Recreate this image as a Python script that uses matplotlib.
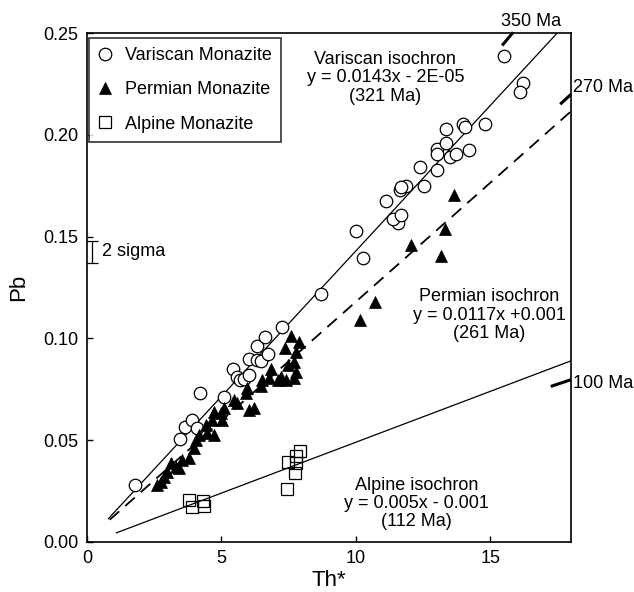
import matplotlib
matplotlib.use("Agg")
import matplotlib.pyplot as plt

plt.rcParams["font.family"] = ["Liberation Sans", "DejaVu Sans"]

# ── Data ──────────────────────────────────────────────────────────────────────
variscan_x = [1.78, 3.46, 3.65, 3.92, 4.09, 4.21, 5.11, 5.45, 5.57, 5.70, 5.85,
              6.04, 6.04, 6.31, 6.47, 6.32, 6.63, 6.75, 7.25, 8.70, 10.26, 10.01,
              11.57, 11.38, 11.69, 11.13, 11.63, 11.88, 11.69, 12.53, 12.40, 13.03,
              13.00, 13.02, 13.37, 13.49, 13.74, 14.21, 13.37, 13.99, 14.05, 14.80,
              15.50, 16.22, 16.10]
variscan_y = [0.028, 0.0506, 0.0566, 0.0599, 0.0558, 0.0730, 0.0713, 0.0848, 0.0811,
              0.0795, 0.0799, 0.0822, 0.0897, 0.0893, 0.0889, 0.0962, 0.1006, 0.0925,
              0.1058, 0.1217, 0.1396, 0.1527, 0.1565, 0.1589, 0.1605, 0.1676, 0.1728,
              0.1748, 0.1744, 0.1748, 0.1842, 0.1830, 0.1933, 0.1908, 0.1960, 0.1891,
              0.1908, 0.1928, 0.2031, 0.2055, 0.2039, 0.2055, 0.2386, 0.2255, 0.2211]

permian_x = [13.65, 13.31, 12.04, 13.16, 10.70, 10.15,
             7.59, 7.90, 7.38, 7.78, 7.72, 7.47, 7.78, 7.22, 6.85, 6.78, 7.12, 7.41,
             7.72, 6.47, 6.52, 5.92, 5.96, 5.48, 5.59, 6.04, 6.22, 5.11, 4.98, 4.73,
             4.67, 5.04, 4.42, 4.48, 4.73, 4.17, 4.05, 3.99, 3.80, 3.55, 3.12, 3.31,
             3.43, 2.99, 2.87, 2.75, 2.62]
permian_y = [0.1707, 0.1540, 0.1461, 0.1404, 0.1180, 0.1090,
             0.1011, 0.0983, 0.0951, 0.0934, 0.0885, 0.0869, 0.0836, 0.0811, 0.0848,
             0.0804, 0.0795, 0.0795, 0.0804, 0.0766, 0.0795, 0.0730, 0.0756, 0.0697,
             0.0682, 0.0648, 0.0656, 0.0656, 0.0632, 0.0640, 0.0599, 0.0599, 0.0574,
             0.0534, 0.0525, 0.0525, 0.0501, 0.0460, 0.0411, 0.0403, 0.0386, 0.0370,
             0.0362, 0.0345, 0.0321, 0.0296, 0.0280]

alpine_x = [3.80, 3.92, 4.30, 4.36, 7.47, 7.78, 7.93, 7.78, 7.75, 7.43]
alpine_y = [0.0206, 0.0170, 0.0203, 0.0177, 0.0394, 0.0422, 0.0448, 0.0386,
            0.0337, 0.0259]

# isochrons: (slope, intercept, x start)
variscan_fit = (0.0143, -2e-05, 0.8)
permian_fit = (0.0117, 0.001, 0.85)
alpine_fit = (0.005, -0.001, 1.1)

# reference ages (slope through origin, short segment x range)
ref_labels = ["350 Ma", "270 Ma", "100 Ma"]
ref_slopes = [0.0158, 0.01222, 0.00443]
ref_x0 = [15.44, 17.6, 17.25]
ref_x1 = [15.85, 18.0, 18.0]

X_MAX = 18
FS = 13

fig = plt.figure(figsize=(6.34, 5.92), dpi=100)
ax = fig.add_axes([0.137, 0.0845, 0.7636, 0.8595])

# ── isochrons ─────────────────────────────────────────────────────────────────
for m, b, x0 in (variscan_fit, alpine_fit):
    ax.plot([x0, X_MAX], [m * x0 + b, m * X_MAX + b], color="black", lw=0.9,
            zorder=2)
m, b, x0 = permian_fit
ax.plot([x0, X_MAX], [m * x0 + b, m * X_MAX + b], color="black", lw=1.3,
        dashes=(7, 4.5), zorder=2)

for sl, xa, xb in zip(ref_slopes, ref_x0, ref_x1):
    ax.plot([xa, xb], [sl * xa, sl * xb], color="black", lw=2.2, clip_on=False,
            solid_capstyle="butt", zorder=3)

# ── data ──────────────────────────────────────────────────────────────────────
ax.plot(variscan_x, variscan_y, ls="none", marker="o", ms=9, mfc="white",
        mec="black", mew=0.9, label="Variscan Monazite", zorder=4)
ax.plot(permian_x, permian_y, ls="none", marker="^", ms=8, mfc="black",
        mec="black", mew=0.5, label="Permian Monazite", zorder=5)
ax.plot(alpine_x, alpine_y, ls="none", marker="s", ms=8, mfc="none",
        mec="black", mew=0.9, label="Alpine Monazite", zorder=4)

# 2 sigma error bar
ax.errorbar([0.2], [0.1425], yerr=[0.0055], color="black", lw=0.9, capsize=4,
            capthick=0.9)
ax.text(0.55, 0.1425, "2 sigma", fontsize=FS, va="center", ha="left")

# ── annotations ───────────────────────────────────────────────────────────────
ax.text(11.1, 0.228, "Variscan isochron\ny = 0.0143x - 2E-05\n(321 Ma)",
        ha="center", va="center", fontsize=FS, linespacing=1.1)
ax.text(14.95, 0.1114, "Permian isochron\ny = 0.0117x +0.001\n(261 Ma)",
        ha="center", va="center", fontsize=FS, linespacing=1.1)
ax.text(12.25, 0.019, "Alpine isochron\ny = 0.005x - 0.001\n(112 Ma)",
        ha="center", va="center", fontsize=FS, linespacing=1.1)

ax.text(16.5, 0.2558, ref_labels[0], ha="center", va="center", fontsize=FS,
        clip_on=False)
ax.text(18.06, 0.2234, ref_labels[1], ha="left", va="center", fontsize=FS,
        clip_on=False)
ax.text(18.06, 0.078, ref_labels[2], ha="left", va="center", fontsize=FS,
        clip_on=False)

# ── axes ──────────────────────────────────────────────────────────────────────
ax.set_xlim(0, X_MAX)
ax.set_ylim(0, 0.25)
ax.set_xticks([0, 5, 10, 15])
ax.set_yticks([0, 0.05, 0.10, 0.15, 0.20, 0.25])
ax.set_yticklabels(["0.00", "0.05", "0.10", "0.15", "0.20", "0.25"])
ax.tick_params(direction="in", length=4, width=1, labelsize=FS, pad=6)
for sp in ax.spines.values():
    sp.set_linewidth(1.2)
ax.set_xlabel("Th*", fontsize=16, labelpad=2)
ax.set_ylabel("Pb", fontsize=16, labelpad=10)

leg = ax.legend(loc="upper left", bbox_to_anchor=(0.004, 0.99), borderaxespad=0,
                fontsize=FS, frameon=True, fancybox=False, edgecolor="black",
                handlelength=0.8, handletextpad=0.7, labelspacing=0.95,
                borderpad=0.5, numpoints=1)
leg.get_frame().set_linewidth(1.2)

fig.savefig("out.png", dpi=100)
